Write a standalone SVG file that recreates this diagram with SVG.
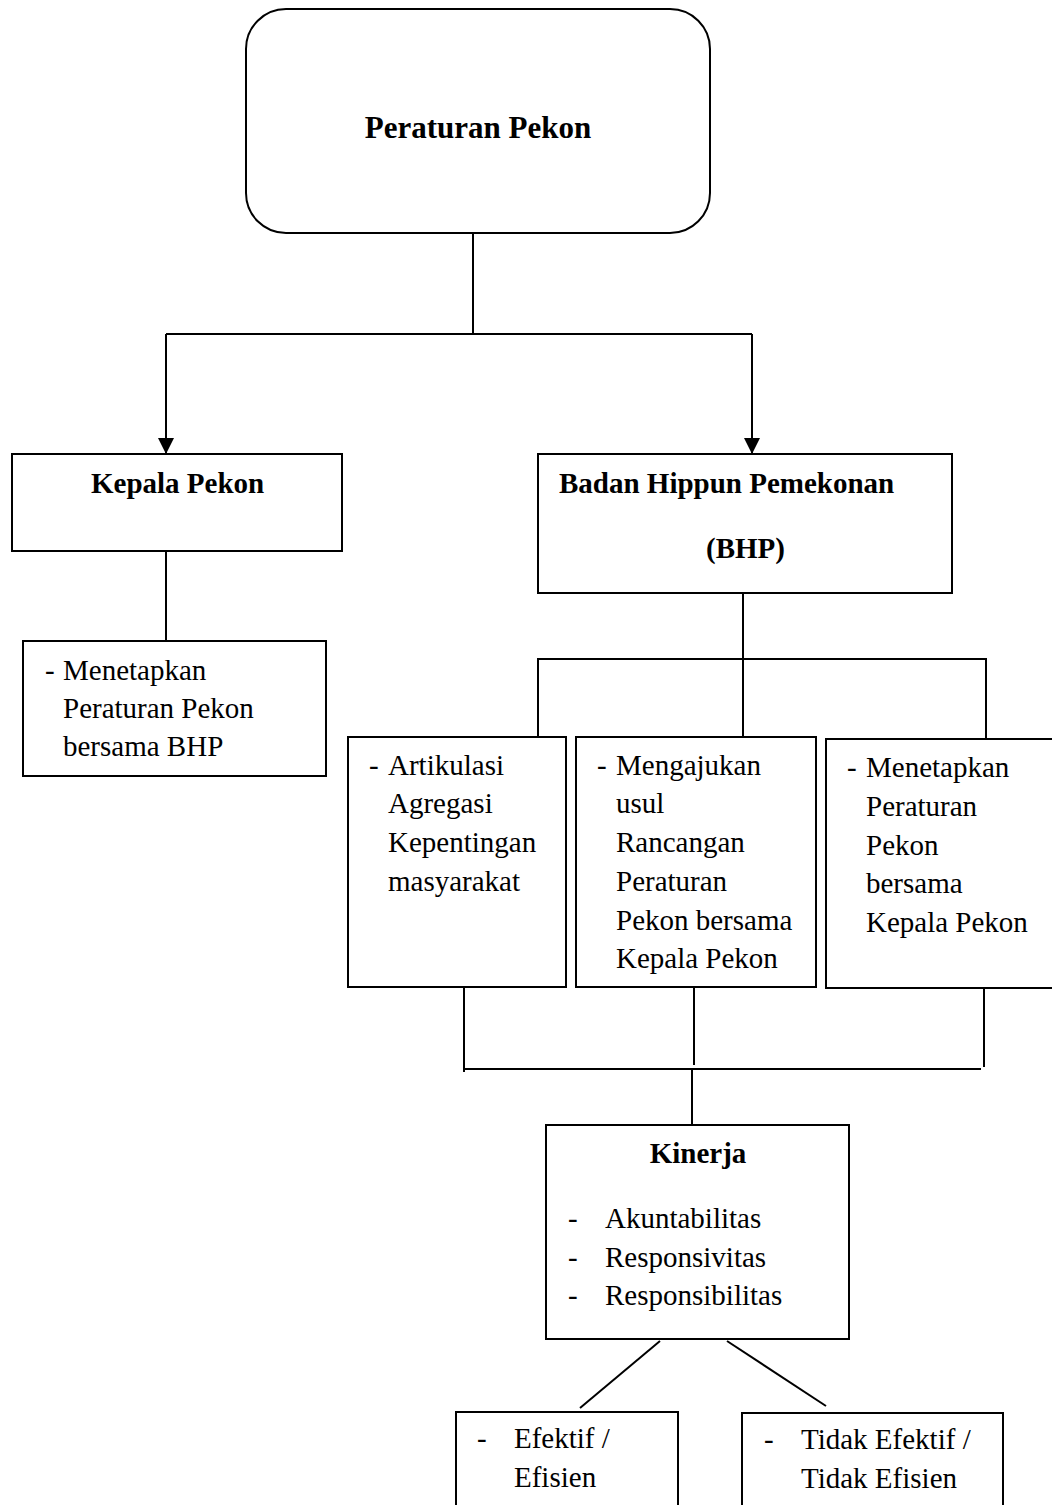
<svg xmlns="http://www.w3.org/2000/svg" width="1052" height="1505" viewBox="0 0 1052 1505">
<defs>
<style>
.box{fill:#fff;stroke:#000;stroke-width:2}
.ln{fill:none;stroke:#000;stroke-width:2}
.t{font-family:"Liberation Serif","Times New Roman",serif;font-size:29px;fill:#000}
.b{font-weight:bold}
</style>
<marker id="ah" viewBox="0 0 10 10" refX="10" refY="5" markerWidth="16" markerHeight="16" markerUnits="userSpaceOnUse" orient="auto">
<path d="M0,0 L10,5 L0,10 z" fill="#000"/>
</marker>
</defs>
<rect width="1052" height="1505" fill="#fff"/>
<g id="connectors">
<path class="ln" d="M473,233 V334"/>
<path class="ln" d="M166,334 H752"/>
<path class="ln" d="M166,334 V454" marker-end="url(#ah)"/>
<path class="ln" d="M752,334 V454" marker-end="url(#ah)"/>
<path class="ln" d="M166,551 V641"/>
<path class="ln" d="M743,593 V737"/>
<path class="ln" d="M538,737 V659 H986 V739"/>
<path class="ln" d="M464,987 V1072"/>
<path class="ln" d="M694,987 V1065"/>
<path class="ln" d="M984,988 V1067"/>
<path class="ln" d="M464,1069 H981"/>
<path class="ln" d="M692,1069 V1125"/>
<path class="ln" d="M660,1341 L580,1408"/>
<path class="ln" d="M727,1341 L826,1406"/>
</g>
<g id="peraturan-pekon">
<rect class="box" x="246" y="9" width="464" height="224" rx="40" ry="40"/>
<text class="t b" x="478" y="138" text-anchor="middle" style="font-size:31px">Peraturan Pekon</text>
</g>
<g id="kepala-pekon">
<rect class="box" x="12" y="454" width="330" height="97"/>
<text class="t b" x="91" y="493">Kepala Pekon</text>
</g>
<g id="bhp">
<rect class="box" x="538" y="454" width="414" height="139"/>
<text class="t b" x="559" y="493">Badan Hippun Pemekonan</text>
<text class="t b" x="706" y="558">(BHP)</text>
</g>
<g id="kepala-tugas">
<rect class="box" x="23" y="641" width="303" height="135"/>
<text class="t" x="45" y="680">-</text>
<text class="t" x="63" y="680">Menetapkan</text>
<text class="t" x="63" y="718">Peraturan Pekon</text>
<text class="t" x="63" y="756">bersama BHP</text>
</g>
<g id="artikulasi">
<rect class="box" x="348" y="737" width="218" height="250"/>
<text class="t" x="369" y="775">-</text>
<text class="t" x="388" y="775">Artikulasi</text>
<text class="t" x="388" y="813">Agregasi</text>
<text class="t" x="388" y="852">Kepentingan</text>
<text class="t" x="388" y="891">masyarakat</text>
</g>
<g id="mengajukan">
<rect class="box" x="576" y="737" width="240" height="250"/>
<text class="t" x="597" y="775">-</text>
<text class="t" x="616" y="775">Mengajukan</text>
<text class="t" x="616" y="813">usul</text>
<text class="t" x="616" y="852">Rancangan</text>
<text class="t" x="616" y="891">Peraturan</text>
<text class="t" x="616" y="930">Pekon bersama</text>
<text class="t" x="616" y="968">Kepala Pekon</text>
</g>
<g id="menetapkan-bhp">
<rect class="box" x="826" y="739" width="240" height="249"/>
<text class="t" x="847" y="777">-</text>
<text class="t" x="866" y="777">Menetapkan</text>
<text class="t" x="866" y="816">Peraturan</text>
<text class="t" x="866" y="855">Pekon</text>
<text class="t" x="866" y="893">bersama</text>
<text class="t" x="866" y="932">Kepala Pekon</text>
</g>
<g id="kinerja">
<rect class="box" x="546" y="1125" width="303" height="214"/>
<text class="t b" x="698" y="1163" text-anchor="middle">Kinerja</text>
<text class="t" x="568" y="1228">-</text>
<text class="t" x="605" y="1228">Akuntabilitas</text>
<text class="t" x="568" y="1267">-</text>
<text class="t" x="605" y="1267">Responsivitas</text>
<text class="t" x="568" y="1305">-</text>
<text class="t" x="605" y="1305">Responsibilitas</text>
</g>
<g id="efektif">
<rect class="box" x="456" y="1412" width="222" height="120"/>
<text class="t" x="477" y="1448">-</text>
<text class="t" x="514" y="1448">Efektif /</text>
<text class="t" x="514" y="1487">Efisien</text>
</g>
<g id="tidak-efektif">
<rect class="box" x="742" y="1413" width="261" height="120"/>
<text class="t" x="764" y="1449">-</text>
<text class="t" x="801" y="1449">Tidak Efektif /</text>
<text class="t" x="801" y="1488">Tidak Efisien</text>
</g>
</svg>
